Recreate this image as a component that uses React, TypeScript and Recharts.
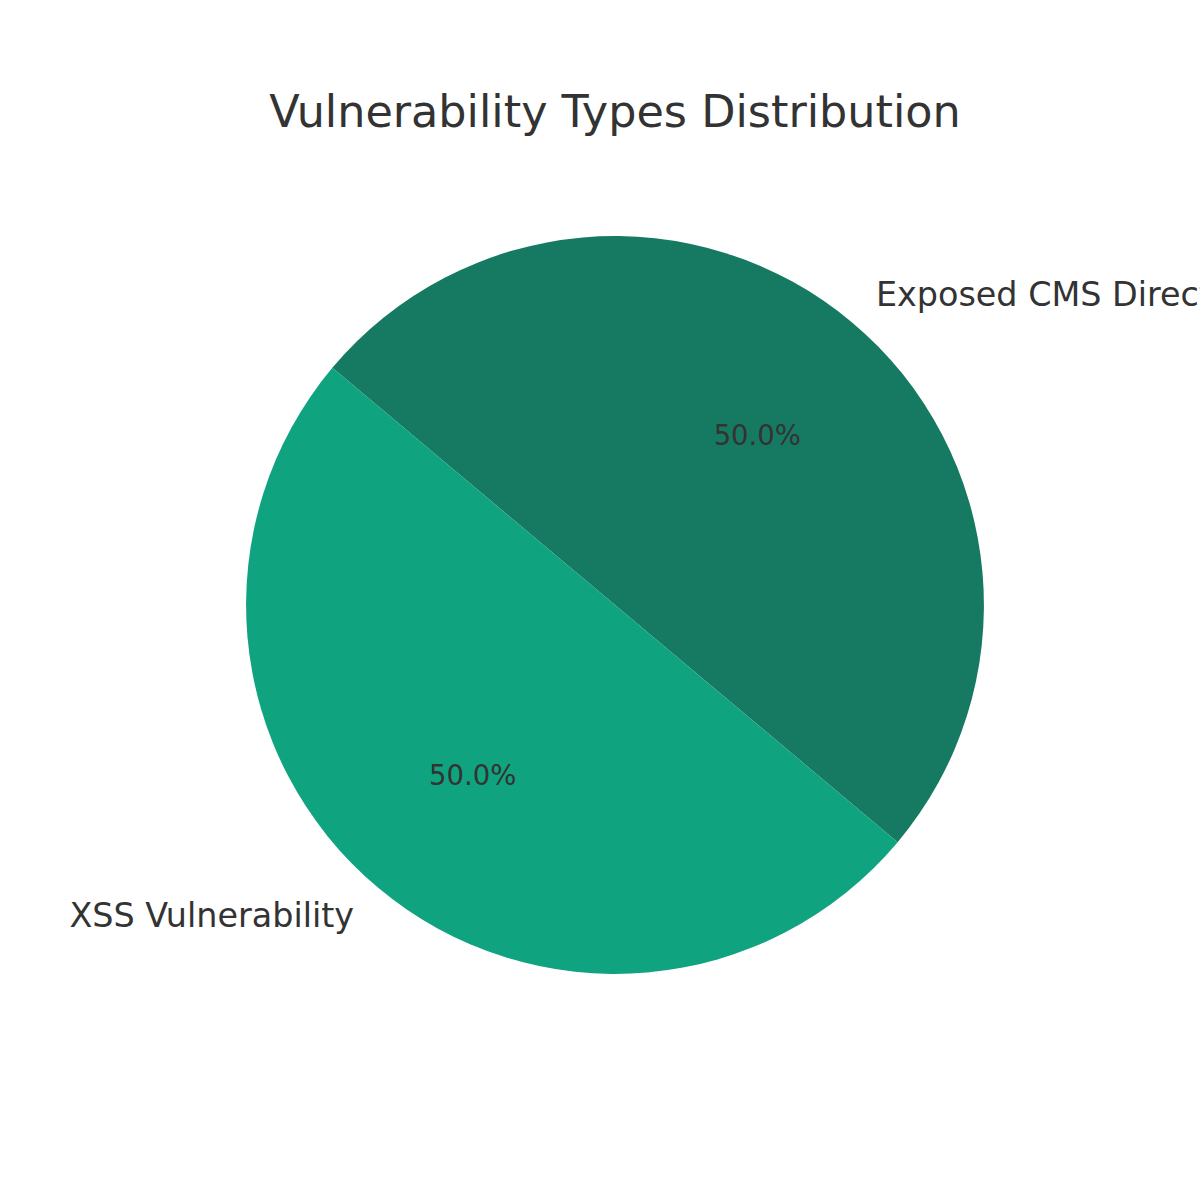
import React from 'react';
import { PieChart, Pie, Cell } from 'recharts';

const categories = ['Exposed CMS Directory', 'XSS Vulnerability'];
const counts = [1, 1];
const COLORS = ['#167A62', '#10A37F'];

const data = categories.map((name, i) => ({ name, value: counts[i] }));

const RADIAN = Math.PI / 180;
const FONT = 'DejaVu Sans, sans-serif';

const renderLabel = (props: any) => {
  const { cx, cy, midAngle, outerRadius, percent, name } = props;
  const cos = Math.cos(-midAngle * RADIAN);
  const sin = Math.sin(-midAngle * RADIAN);
  const lx = cx + outerRadius * 1.1 * cos;
  const ly = cy + outerRadius * 1.1 * sin;
  const px = cx + outerRadius * 0.6 * cos;
  const py = cy + outerRadius * 0.6 * sin;
  return (
    <g>
      <text
        x={lx}
        y={ly}
        fill="#333333"
        fontSize={33.4}
        fontFamily={FONT}
        textAnchor={cos >= 0 ? 'start' : 'end'}
        dominantBaseline="central"
      >
        {name}
      </text>
      <text
        x={px}
        y={py}
        fill="#333333"
        fontSize={27.5}
        fontFamily={FONT}
        textAnchor="middle"
        dominantBaseline="central"
      >
        {(percent * 100).toFixed(1)}%
      </text>
    </g>
  );
};

export default function App() {
  return (
    <div style={{ position: 'absolute', left: 0, top: 0, width: 1200, height: 1200, background: '#fff', overflow: 'hidden' }}>
      <div
        style={{
          position: 'absolute',
          top: 82,
          left: 0,
          width: 1230,
          textAlign: 'center',
          fontFamily: FONT,
          fontSize: 44.5,
          color: '#333333',
          lineHeight: '60px',
        }}
      >
        Vulnerability Types Distribution
      </div>
      <PieChart width={1200} height={1200} margin={{ top: 0, right: 0, bottom: 0, left: 0 }}>
        <Pie
          data={data}
          dataKey="value"
          nameKey="name"
          cx={615}
          cy={605}
          outerRadius={369}
          startAngle={-40}
          endAngle={320}
          stroke="none"
          labelLine={false}
          label={renderLabel}
          isAnimationActive={false}
        >
          {data.map((entry, i) => (
            <Cell key={entry.name} fill={COLORS[i % COLORS.length]} />
          ))}
        </Pie>
      </PieChart>
    </div>
  );
}
